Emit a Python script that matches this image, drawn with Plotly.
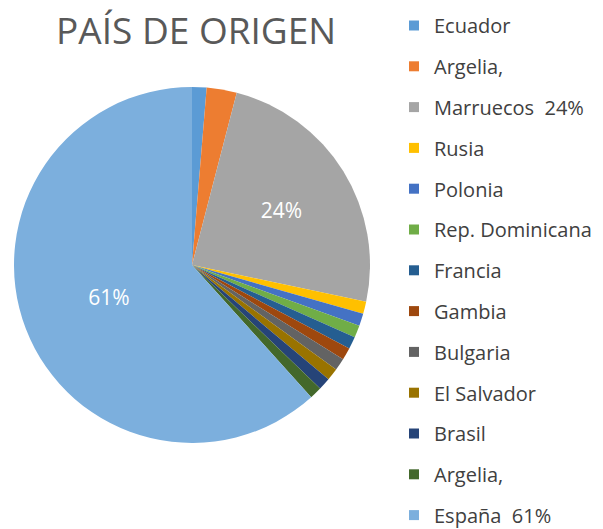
import plotly.graph_objects as go

labels = ["Ecuador", "Argelia,", "Marruecos  24%", "Rusia", "Polonia", "Rep. Dominicana",
          "Francia", "Gambia", "Bulgaria", "El Salvador", "Brasil", "Argelia, ", "España  61%"]
values = [1.3, 2.7, 24, 1.1, 1.1, 1.1, 1.1, 1.1, 1.1, 1.1, 1.1, 1.1, 61]
slice_text = ["", "", "24%", "", "", "", "", "", "", "", "", "", "61%"]
colors = ["#5B9BD5", "#ED7D31", "#A5A5A5", "#FFC000", "#4472C4", "#70AD47",
          "#255E91", "#9E480E", "#636363", "#997300", "#264478", "#43682B", "#7CAFDD"]

W, H = 603, 560
OFF = 8  # page body margin
cx, cy, r = 192 - OFF, 265 - OFF, 178


def py(y_screen):
    return 1 - (y_screen - OFF) / H


fig = go.Figure()
fig.add_trace(go.Pie(
    labels=labels, values=values, text=slice_text, texttemplate="%{text}",
    textposition="inside", insidetextorientation="horizontal",
    textfont=dict(color="white", size=21, family="Open Sans"),
    marker=dict(colors=colors, line=dict(width=0)),
    sort=False, direction="clockwise", rotation=0, showlegend=False,
    domain=dict(x=[(cx - r) / W, (cx + r) / W], y=[1 - (cy + r) / H, 1 - (cy - r) / H]),
))
for lab, col in zip(labels, colors):
    fig.add_trace(go.Scatter(
        x=[None], y=[None], mode="markers", name=lab, legendgroup=lab,
        marker=dict(symbol="square", size=10, color=col),
    ))

fig.update_layout(
    width=W, height=H, margin=dict(l=0, r=0, t=0, b=0, autoexpand=False),
    paper_bgcolor="white", plot_bgcolor="white",
    xaxis=dict(visible=False), yaxis=dict(visible=False),
    legend=dict(x=386 / W, y=py(6), xanchor="left", yanchor="top",
                bgcolor="rgba(0,0,0,0)", tracegroupgap=11.8, maxheight=700,
                font=dict(family="Open Sans", size=20, color="#404040")),
    annotations=[dict(text="PAÍS DE ORIGEN", x=188 / W, y=py(30), xref="paper", yref="paper",
                      xanchor="center", yanchor="middle", showarrow=False,
                      font=dict(family="Open Sans", size=37, color="#595959"))],
)
fig.write_html("out.html")
